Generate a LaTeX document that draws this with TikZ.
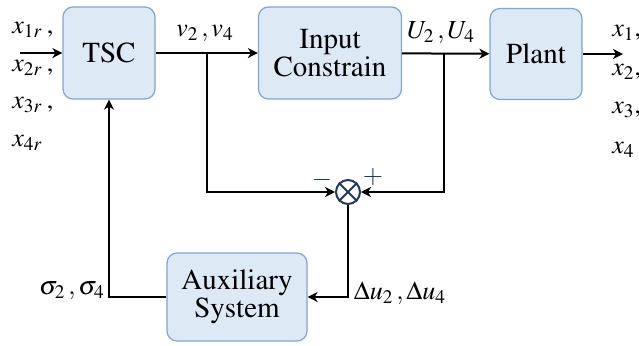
\documentclass[tikz,border=0pt]{standalone}
\usepackage[T1]{fontenc}
\usepackage{mathptmx}
\usepackage{tikz}
\usetikzlibrary{arrows.meta,positioning}
\definecolor{boxfill}{RGB}{222,233,246}
\definecolor{boxline}{RGB}{126,166,214}
\definecolor{navy}{RGB}{31,56,100}

\begin{document}
\begin{tikzpicture}[x=0.5pt, y=-0.5pt, font=\fontsize{13}{14}\selectfont,
      blk/.style={draw=boxline, fill=boxfill, line width=0.6pt, rounded corners=5pt, align=center,
                  font=\fontsize{14.5}{14}\selectfont},
      arr/.style={line width=1pt, -{Stealth[length=5pt,width=5pt,inset=1.5pt]}},
      lab/.style={inner sep=0pt}]
    \useasboundingbox (0,0) rectangle (639,345);
    % blocks
    \node[blk, minimum width=46pt, minimum height=46pt] (tsc) at (109,53) {TSC};
    \node[blk, minimum width=71.5pt, minimum height=46pt] (ic) at (330,53) {Input\\Constrain};
    \node[blk, minimum width=46pt, minimum height=45.5pt] (plant) at (536,54) {Plant};
    \node[blk, minimum width=70pt, minimum height=44pt] (aux) at (237,297) {Auxiliary\\System};
    \node[draw=navy, line width=1pt, circle, minimum size=12pt, inner sep=0pt] (sum) at (348,192) {};
    \draw[navy, line width=1pt] (sum.north west) -- (sum.south east) (sum.north east) -- (sum.south west);
    % free ends and branch points
    \coordinate (in) at (20,53);
    \coordinate (out) at (623,54);
    \coordinate (b1) at (207,53);
    \coordinate (b2) at (444,53);
    % connectors
    \draw[arr] (in) -- (tsc);
    \draw[arr] (tsc) -- (ic);
    \draw[arr] (ic) -- (plant);
    \draw[arr] (plant.east) -- (out);
    \draw[arr] (b1) |- (sum.west);
    \draw[arr] (b2) |- (sum.east);
    \draw[arr] (sum.south) |- (aux.east);
    \draw[arr] (aux.west) -| (tsc.south);
    % labels
    \foreach \y/\t in {30/{$x_{1r}$\,,}, 68/{$x_{2r}$\,,}, 105/{$x_{3r}$\,,}, 143/{$x_{4r}$}}
      \node[lab, anchor=west] at (12,\y) {\t};
    \foreach \y/\t in {33/{$x_1$,}, 72/{$x_2$,}, 110/{$x_3$,}, 150/{$x_4$}}
      \node[lab, anchor=west] at (612,\y) {\t};
    \node[lab] (lv) at (205,33) {$v_2\,,v_4$};
    \node[lab] (lu) at (441,33) {$U_2\,,U_4$};
    \node[lab] (ls) at (72,291) {$\sigma_2\,,\sigma_4$};
    \node[lab] (ld) at (400,293) {$\Delta u_2\,,\Delta u_4$};
    \node[lab, navy] (lm) at (322,180) {$-$};
    \node[lab, navy] (lp) at (373,177) {$+$};
  \end{tikzpicture}
\end{document}
